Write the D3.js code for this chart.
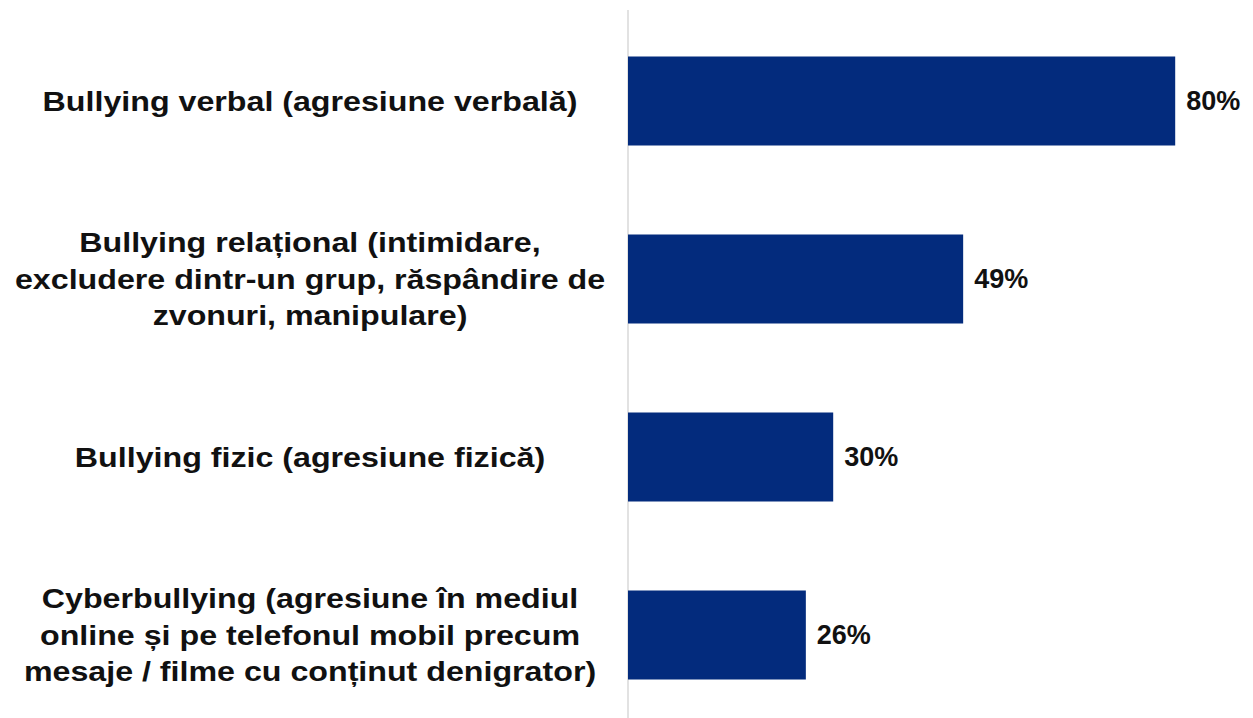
<!DOCTYPE html>
<html>
<head>
<meta charset="utf-8">
<script src="https://cdn.jsdelivr.net/npm/d3@7"></script>
<style>
  body { margin: 0; background: #fff; }
  svg { display: block; font-family: "Liberation Sans", Arial, sans-serif; }
</style>
</head>
<body>
<div id="chart"></div>
<script>
// Chart data
const categories = [
  "Bullying verbal (agresiune verbală)",
  "Bullying relațional (intimidare,\nexcludere dintr-un grup, răspândire de\nzvonuri, manipulare)",
  "Bullying fizic (agresiune fizică)",
  "Cyberbullying (agresiune în mediul\nonline și pe telefonul mobil precum\nmesaje / filme cu conținut denigrator)"
];
const values = [80, 49, 30, 26];

// Frame constants
const FRAME_WIDTH = 1253;
const FRAME_HEIGHT = 718;
const AXIS_X = 628;
const LABEL_CENTER = 310;
const LABEL_STRETCH = 1.15; // the reference text is a bit wider than the font

const FRAME = d3.select("#chart")
  .append("svg")
    .attr("width", FRAME_WIDTH)
    .attr("height", FRAME_HEIGHT);

// x scale: percent -> pixels
const X_SCALE = d3.scaleLinear()
  .domain([0, 100])
  .range([AXIS_X, AXIS_X + 684]);

// y scale: one band per category
const Y_SCALE = d3.scaleBand()
  .domain(categories)
  .range([12, 724])
  .paddingInner(0.5)
  .paddingOuter(0.25);

// vertical axis line
FRAME.append("line")
  .attr("x1", AXIS_X).attr("x2", AXIS_X)
  .attr("y1", 10).attr("y2", FRAME_HEIGHT)
  .attr("stroke", "#d9d9d9")
  .attr("stroke-width", 1.5);

// bars
FRAME.selectAll(".bar")
  .data(categories)
  .enter()
  .append("rect")
    .attr("class", "bar")
    .attr("x", X_SCALE(0))
    .attr("y", d => Y_SCALE(d))
    .attr("width", (d, i) => X_SCALE(values[i]) - X_SCALE(0))
    .attr("height", Y_SCALE.bandwidth())
    .attr("fill", "#032b7d");

// value labels
FRAME.selectAll(".value")
  .data(categories)
  .enter()
  .append("text")
    .attr("class", "value")
    .attr("x", (d, i) => X_SCALE(values[i]) + 11)
    .attr("y", d => Y_SCALE(d) + Y_SCALE.bandwidth() / 2)
    .attr("dy", "0.35em")
    .attr("font-size", "27px")
    .attr("font-weight", "bold")
    .attr("fill", "#111")
    .text((d, i) => values[i] + "%");

// category labels, wrapped on line breaks
const LINE_H = 36.5;
FRAME.selectAll(".cat")
  .data(categories)
  .enter()
  .append("text")
    .attr("class", "cat")
    .attr("text-anchor", "middle")
    .attr("font-size", "28px")
    .attr("font-weight", "bold")
    .attr("fill", "#111")
    .attr("transform", d => "translate(" + LABEL_CENTER + "," +
          (Y_SCALE(d) + Y_SCALE.bandwidth() / 2) + ") scale(" + LABEL_STRETCH + ",1)")
    .each(function(d) {
      const lines = d.split("\n");
      const top = -(lines.length - 1) * LINE_H / 2;
      d3.select(this).selectAll("tspan")
        .data(lines)
        .enter()
        .append("tspan")
          .attr("x", 0)
          .attr("y", (l, j) => top + j * LINE_H)
          .attr("dy", "0.35em")
          .text(l => l);
    });
</script>
</body>
</html>
